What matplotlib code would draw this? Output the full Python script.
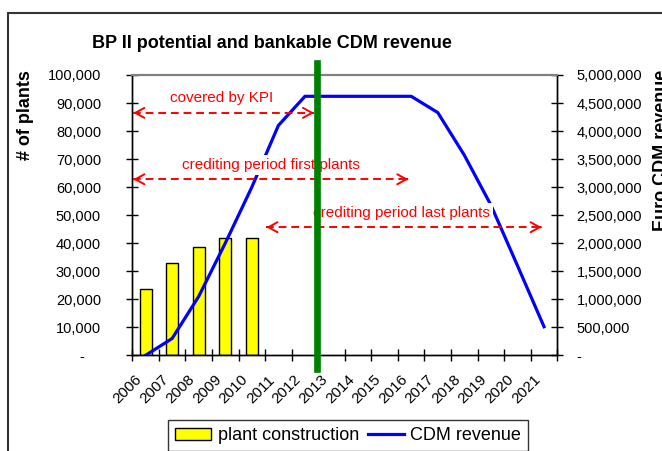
#!/usr/bin/env python3

import numpy as np
import matplotlib
matplotlib.use("Agg")
import matplotlib.pyplot as plt
from matplotlib.patches import Rectangle
from matplotlib.transforms import ScaledTranslation
from matplotlib.ticker import FuncFormatter, MultipleLocator

plt.rcParams['font.family'] = ['Liberation Sans', 'DejaVu Sans']

# Data
years = [str(y) for y in range(2006, 2022)]
plant_years = years[:5]
plants = [23700, 32800, 38800, 41900, 41900]
cdm_revenue = [0, 300000, 1050000, 2000000, 3000000, 4100000,
               4620000, 4620000, 4620000, 4620000, 4620000,
               4330000, 3570000, 2680000, 1600000, 510000]

# Annotations: label, text x / y, arrow start / end / y (left-axis units)
note_labels = ['covered by KPI', 'crediting period first plants', 'crediting period last plants']
note_text_x = [2.88, 4.71, 9.63]
note_text_y = [91700, 67900, 50700]
note_x0 = [-0.46, -0.46, 4.55]
note_x1 = [6.34, 9.89, 14.91]
note_y = [86500, 62800, 45700]
kpi_line_x = 6.45

W, H = 662, 451
fig = plt.figure(figsize=(W / 100, H / 100), dpi=100)
ax = fig.add_axes([132.3 / W, 1 - 355.3 / H, (557.3 - 132.3) / W, (355.3 - 75) / H])
ax2 = ax.twinx()

x = np.arange(len(years))
xb = np.arange(len(plant_years))

bars = ax.bar(xb, plants, width=0.45, color='#FFFF00', edgecolor='black',
              linewidth=1.0, zorder=2)
line, = ax2.plot(x, cdm_revenue, color='#0000FF', lw=2.3, zorder=3)

ax.set_xlim(-0.5, len(years) - 0.5)
ax.set_ylim(0, 100000)
ax2.set_ylim(0, 5000000)

# y axes
ax.yaxis.set_major_locator(MultipleLocator(10000))
ax2.yaxis.set_major_locator(MultipleLocator(500000))
fmt = lambda v, p: '-    ' if v == 0 else f'{int(v):,}'
fmt2 = lambda v, p: '-' if v == 0 else f'{int(v):,}'
ax.yaxis.set_major_formatter(FuncFormatter(fmt))
ax2.yaxis.set_major_formatter(FuncFormatter(fmt2))
ax.tick_params(axis='y', direction='inout', length=9, width=1, pad=18,
               labelsize=10.5, colors='black')
ax2.tick_params(axis='y', direction='inout', length=9, width=1, pad=9.5,
                labelsize=10.5, colors='black')

# x axis: ticks at category borders, labels at centers
ax.set_xticks(x)
ax.set_xticklabels(years, rotation=45, ha='right', va='top', rotation_mode='anchor')
ax.set_xticks(np.arange(len(years) + 1) - 0.5, minor=True)
ax.tick_params(axis='x', which='major', length=0, pad=12.5, labelsize=11)
ax.tick_params(axis='x', which='minor', direction='inout', length=9, width=1)
for lab in ax.get_xticklabels():
    lab.set_transform(lab.get_transform() + ScaledTranslation(-11 / 100, 0, fig.dpi_scale_trans))
ax2.tick_params(axis='x', which='both', length=0)

for a in (ax, ax2):
    for s in ('left', 'right', 'bottom'):
        a.spines[s].set_color('black')
        a.spines[s].set_linewidth(1.0)
    a.spines['top'].set_color('#808080')
    a.spines['top'].set_linewidth(1.5)

# red dashed arrows with labels (drawn on top axes, in left-axis units)
td = ax.transData
for lab, tx, ty, x0, x1, yy in zip(note_labels, note_text_x, note_text_y, note_x0, note_x1, note_y):
    ax2.plot([x0, x1], [yy, yy], color='red', lw=1.4, ls=(0, (4, 2.5)), zorder=4,
             transform=td)
    for tip, tail in ((x0, x0 + 0.05), (x1, x1 - 0.05)):
        ax2.annotate('', xy=(tip, yy), xytext=(tail, yy), xycoords=td, textcoords=td,
                     arrowprops=dict(arrowstyle='->, head_length=0.65, head_width=0.36',
                                     color='red', lw=1.4, shrinkA=0, shrinkB=0,
                                     mutation_scale=10), zorder=4)
    ax2.text(tx, ty, lab, color='red', fontsize=11, ha='center', va='center', zorder=5,
             transform=td, bbox=dict(facecolor='white', edgecolor='none', pad=2))

# KPI boundary
ax2.axvline(kpi_line_x, ymin=-0.049, ymax=1.043, color='#008000', lw=4.8,
            clip_on=False, zorder=6)

# titles
fig.text(271.7 / W, 1 - 44 / H, 'BP II potential and bankable CDM revenue',
         fontsize=13, fontweight='bold', ha='center', va='center')
fig.text(26 / W, 1 - 70 / H, '# of plants', fontsize=13, fontweight='bold',
         rotation=90, ha='center', va='top')
fig.text(661 / W, 1 - 70 / H, 'Euro CDM revenue', fontsize=13, fontweight='bold',
         rotation=90, ha='center', va='top')

# legend
leg = fig.legend([bars, line], ['plant construction', 'CDM revenue'], loc='upper left',
                 bbox_to_anchor=(168 / W, 1 - 420 / H), ncol=2, fontsize=13,
                 frameon=True, fancybox=False, edgecolor='#333333', framealpha=1,
                 borderaxespad=0, handlelength=2.0, handleheight=0.6,
                 handletextpad=0.35, columnspacing=0.48, borderpad=0.4)
leg.get_frame().set_linewidth(1.0)

# chart area border
fig.patches.append(Rectangle((8.3 / W, -0.2), 1.2, 1 - 12.7 / H + 0.2,
                             transform=fig.transFigure, fill=False,
                             edgecolor='#333333', lw=1.5))

fig.savefig('out.png', dpi=100)
